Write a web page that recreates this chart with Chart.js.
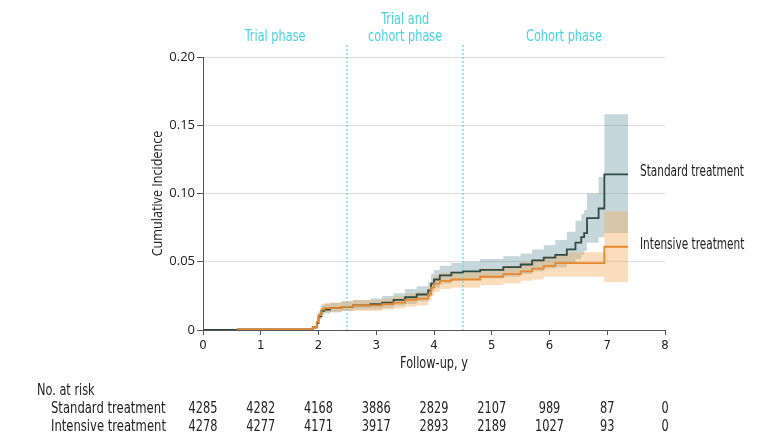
<!DOCTYPE html>
<html>
<head>
<meta charset="utf-8">
<script src="https://cdn.jsdelivr.net/npm/chart.js@4.4.0/dist/chart.umd.min.js"></script>
<style>
  html, body { margin: 0; padding: 0; background: #fff; }
  #wrap { width: 780px; height: 447px; position: relative; }
</style>
</head>
<body>
<div id="wrap"><canvas id="IncidenceChart"></canvas></div>
<script>
// follow-up times (years) where the curves step
const times = [0, 0.6, 1.9, 1.97, 2.0, 2.05, 2.1, 2.2, 2.4, 2.6, 2.9, 3.1, 3.3, 3.5, 3.7, 3.9, 3.95, 4.0, 4.1, 4.3, 4.5, 4.8, 5.2, 5.5, 5.7, 5.9, 6.1, 6.3, 6.45, 6.55, 6.6, 6.65, 6.85, 6.95, 7.0, 7.36];

// standard treatment
const stdValues = [0, 0, 0.0005, 0.002, 0.005, 0.010, 0.014, 0.015, 0.016, 0.017, 0.018, 0.019, 0.020, 0.022, 0.024, 0.026, 0.029, 0.034, 0.037, 0.040, 0.042, 0.043, 0.044, 0.046, 0.048, 0.051, 0.053, 0.055, 0.059, 0.064, 0.068, 0.071, 0.082, 0.089, 0.114, 0.114];
const stdUpper = [0, 0, 0.001, 0.003, 0.007, 0.013, 0.018, 0.019, 0.020, 0.021, 0.022, 0.023, 0.025, 0.027, 0.030, 0.032, 0.035, 0.041, 0.044, 0.047, 0.049, 0.050, 0.052, 0.054, 0.056, 0.059, 0.062, 0.066, 0.072, 0.080, 0.085, 0.088, 0.100, 0.112, 0.158, 0.158];
const stdLower = [0, 0, 0, 0.001, 0.003, 0.008, 0.011, 0.012, 0.013, 0.014, 0.015, 0.015, 0.016, 0.018, 0.019, 0.021, 0.024, 0.028, 0.031, 0.034, 0.036, 0.037, 0.038, 0.039, 0.041, 0.043, 0.045, 0.046, 0.049, 0.052, 0.055, 0.058, 0.064, 0.068, 0.071, 0.071];

// intensive treatment
const intValues = [null, 0, 0.0005, 0.002, 0.006, 0.011, 0.015, 0.016, 0.016, 0.017, 0.018, 0.018, 0.019, 0.020, 0.022, 0.023, 0.026, 0.031, 0.034, 0.036, 0.037, 0.037, 0.039, 0.041, 0.043, 0.045, 0.047, 0.049, 0.049, 0.049, 0.049, 0.049, 0.049, 0.049, 0.061, 0.061];
const intUpper = [null, 0, 0.001, 0.003, 0.008, 0.014, 0.019, 0.020, 0.020, 0.021, 0.022, 0.022, 0.023, 0.025, 0.027, 0.028, 0.031, 0.037, 0.040, 0.042, 0.043, 0.043, 0.045, 0.047, 0.050, 0.052, 0.054, 0.056, 0.057, 0.057, 0.057, 0.057, 0.057, 0.057, 0.087, 0.087];
const intLower = [null, 0, 0, 0.001, 0.004, 0.008, 0.012, 0.013, 0.013, 0.014, 0.014, 0.014, 0.015, 0.016, 0.017, 0.018, 0.021, 0.025, 0.028, 0.030, 0.031, 0.031, 0.033, 0.034, 0.036, 0.037, 0.039, 0.039, 0.039, 0.039, 0.039, 0.039, 0.039, 0.039, 0.035, 0.035];

// number at risk table
const riskTimes = [0, 1, 2, 3, 4, 5, 6, 7, 8];
const stdRisk = [4285, 4282, 4168, 3886, 2829, 2107, 989, 87, 0];
const intRisk = [4278, 4277, 4171, 3917, 2893, 2189, 1027, 93, 0];

// study phases
const phaseBreaks = [2.5, 4.5];
const phaseLabels = [
  { x: 1.25, lines: ["Trial phase"] },
  { x: 3.5, lines: ["Trial and", "cohort phase"] },
  { x: 6.25, lines: ["Cohort phase"] }
];

const narrow = '"DejaVu Sans Condensed", "Liberation Sans Narrow", sans-serif';
const STD_COLOR = '#2e4b47';
const INT_COLOR = '#e8872c';
const SQUEEZE = 0.84;

const toPoints = (vals) => times.map((t, i) => ({ x: t, y: vals[i] }));

// text drawn slightly compressed to look like the condensed journal font
function narrowText(ctx, text, x, y, align, squeeze) {
  ctx.save();
  ctx.translate(x, y);
  ctx.scale(squeeze || SQUEEZE, 1);
  ctx.textAlign = align;
  ctx.fillText(text, 0, 0);
  ctx.restore();
}

const extrasPlugin = {
  id: 'extras',
  afterDraw(chart) {
    const ctx = chart.ctx;
    const xs = chart.scales.x;
    const area = chart.chartArea;
    ctx.save();

    // phase dividers
    ctx.strokeStyle = '#5cd4e6';
    ctx.lineWidth = 1.2;
    ctx.setLineDash([2, 2]);
    phaseBreaks.forEach(b => {
      const px = Math.round(xs.getPixelForValue(b));
      ctx.beginPath();
      ctx.moveTo(px, 45);
      ctx.lineTo(px, area.bottom);
      ctx.stroke();
    });
    ctx.setLineDash([]);

    ctx.textBaseline = 'middle';
    // phase labels
    ctx.fillStyle = '#45d3e3';
    ctx.font = '15px ' + narrow;
    phaseLabels.forEach(p => {
      const px = xs.getPixelForValue(p.x);
      const n = p.lines.length;
      p.lines.forEach((ln, i) => {
        narrowText(ctx, ln, px, 37 - (n - 1 - i) * 17, 'center');
      });
    });

    // curve end labels
    ctx.fillStyle = '#222';
    ctx.font = '15px ' + narrow;
    narrowText(ctx, 'Standard treatment', 640, 172, 'left', 0.78);
    narrowText(ctx, 'Intensive treatment', 640, 245, 'left', 0.78);

    // axis titles
    narrowText(ctx, 'Follow-up, y', xs.getPixelForValue(4), 364, 'center');
    ctx.save();
    ctx.translate(158, (area.top + area.bottom) / 2);
    ctx.rotate(-Math.PI / 2);
    ctx.font = '15px "Open Sans", "Noto Sans", sans-serif';
    narrowText(ctx, 'Cumulative Incidence', 0, 0, 'center');
    ctx.restore();

    // no. at risk table
    narrowText(ctx, 'No. at risk', 37, 391, 'left');
    narrowText(ctx, 'Standard treatment', 51, 409, 'left', 0.86);
    narrowText(ctx, 'Intensive treatment', 51, 427, 'left', 0.86);
    riskTimes.forEach((t, i) => {
      const px = xs.getPixelForValue(t);
      narrowText(ctx, String(stdRisk[i]), px, 409, 'center');
      narrowText(ctx, String(intRisk[i]), px, 427, 'center');
    });
    ctx.restore();
  }
};

const ctx = document.getElementById('IncidenceChart').getContext('2d');
new Chart(ctx, {
  type: 'line',
  data: {
    datasets: [
      { label: 'std lower', data: toPoints(stdLower), stepped: 'after', borderWidth: 0, pointRadius: 0, fill: false, order: 5 },
      { label: 'std upper', data: toPoints(stdUpper), stepped: 'after', borderWidth: 0, pointRadius: 0, fill: '-1', backgroundColor: 'rgba(90, 140, 150, 0.35)', order: 4 },
      { label: 'int lower', data: toPoints(intLower), stepped: 'after', borderWidth: 0, pointRadius: 0, fill: false, order: 3 },
      { label: 'int upper', data: toPoints(intUpper), stepped: 'after', borderWidth: 0, pointRadius: 0, fill: '-1', backgroundColor: 'rgba(240, 170, 90, 0.4)', order: 2 },
      { label: 'Standard treatment', data: toPoints(stdValues), stepped: 'after', borderColor: STD_COLOR, borderWidth: 1.8, pointRadius: 0, fill: false, order: 1 },
      { label: 'Intensive treatment', data: toPoints(intValues), stepped: 'after', borderColor: INT_COLOR, borderWidth: 1.8, pointRadius: 0, fill: false, order: 0 }
    ]
  },
  options: {
    responsive: true,
    maintainAspectRatio: false,
    animation: false,
    layout: { padding: { left: 0, top: 57, right: 115, bottom: 0 } },
    plugins: { legend: { display: false }, tooltip: { enabled: false } },
    scales: {
      x: {
        type: 'linear',
        min: 0,
        max: 8,
        afterFit: (scale) => { scale.height = 117; },
        ticks: { stepSize: 1, color: '#222', font: { family: narrow, size: 13 }, padding: 3 },
        grid: { drawOnChartArea: false, drawTicks: true, tickLength: 5, tickColor: '#555' },
        border: { color: '#555', width: 1 }
      },
      y: {
        min: 0,
        max: 0.2,
        afterFit: (scale) => { scale.width = 203; },
        ticks: {
          stepSize: 0.05,
          color: '#222',
          font: { family: '"Open Sans", "Noto Sans", sans-serif', size: 13 },
          padding: 2,
          callback: (v) => v === 0 ? '0' : v.toFixed(2)
        },
        grid: { color: '#dcdcdc', tickLength: 6, tickColor: '#555' },
        border: { color: '#555', width: 1 }
      }
    }
  },
  plugins: [extrasPlugin]
});
</script>
</body>
</html>
